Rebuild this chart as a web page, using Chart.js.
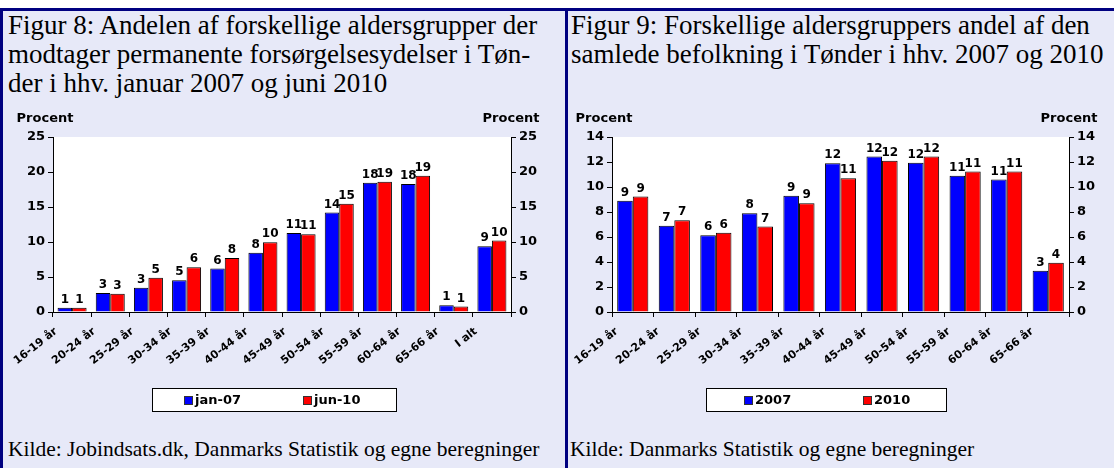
<!DOCTYPE html>
<html><head><meta charset="utf-8">
<script src="https://cdn.jsdelivr.net/npm/chart.js@4/dist/chart.umd.min.js"></script>
<style>
html,body{margin:0;padding:0;background:#fff;}
#wrap{position:relative;width:1114px;height:468px;overflow:hidden;background:#fff;}
.panel{position:absolute;top:11px;bottom:0;background:#E7E9F8;}
.rule{position:absolute;background:#000080;}
.title{position:absolute;top:11px;font-family:"Liberation Serif","Times New Roman",serif;font-size:27px;line-height:29px;color:#000;white-space:nowrap;}
.src{position:absolute;top:437px;font-family:"Liberation Serif","Times New Roman",serif;font-size:21.5px;line-height:25px;color:#000;white-space:nowrap;}
canvas{position:absolute;}
</style></head>
<body>
<div id="wrap">
  <div class="panel" style="left:3px;width:562px;"></div>
  <div class="panel" style="left:568px;width:546px;"></div>
  <div class="rule" style="left:0;top:8px;width:1114px;height:3px;"></div>
  <div class="rule" style="left:0;top:8px;width:3px;bottom:0;"></div>
  <div class="rule" style="left:565px;top:8px;width:3px;bottom:0;"></div>
  <div class="title" style="left:8px;">Figur 8: Andelen af forskellige aldersgrupper der<br>modtager permanente forsørgelsesydelser i Tøn-<br>der i hhv. januar 2007 og juni 2010</div>
  <div class="title" style="left:571px;">Figur 9: Forskellige aldersgruppers andel af den<br>samlede befolkning i Tønder i hhv. 2007 og 2010</div>
  <canvas id="c1" style="left:3px;top:100px;"></canvas>
  <canvas id="c2" style="left:568px;top:100px;"></canvas>
  <div class="src" style="left:8px;">Kilde: Jobindsats.dk, Danmarks Statistik og egne beregninger</div>
  <div class="src" style="left:570px;">Kilde: Danmarks Statistik og egne beregninger</div>
</div>
<script>
// ---------- DATA ----------
const ageGroups1 = ['16-19 år','20-24 år','25-29 år','30-34 år','35-39 år','40-44 år','45-49 år','50-54 år','55-59 år','60-64 år','65-66 år','I alt'];
const jan07 = [0.6, 2.7, 3.45, 4.55, 6.2, 8.45, 11.3, 14.2, 18.45, 18.3, 0.95, 9.4];
const jun10 = [0.6, 2.6, 4.9, 6.4, 7.7, 9.95, 11.1, 15.45, 18.6, 19.45, 0.8, 10.2];
const ticks1 = [0, 5, 10, 15, 20, 25];
const seriesNames1 = ['jan-07', 'jun-10'];

const ageGroups2 = ['16-19 år','20-24 år','25-29 år','30-34 år','35-39 år','40-44 år','45-49 år','50-54 år','55-59 år','60-64 år','65-66 år'];
const pop2007 = [8.9, 6.9, 6.15, 7.9, 9.3, 11.9, 12.45, 11.95, 10.9, 10.6, 3.3];
const pop2010 = [9.25, 7.35, 6.35, 6.85, 8.7, 10.7, 12.1, 12.45, 11.25, 11.25, 3.95];
const ticks2 = [0, 2, 4, 6, 8, 10, 12, 14];
const seriesNames2 = ['2007', '2010'];

const axisLabel = 'Procent';

// ---------- STYLE ----------
const FONT = '"DejaVu Sans", "Liberation Sans", Arial, sans-serif';
const BLUE = '#0000FF', RED = '#FF0000';

const decorPlugin = {
  id: 'decor',
  beforeDraw(chart) {
    const { ctx, chartArea: a } = chart;
    ctx.save();
    ctx.fillStyle = '#FFFFFF';
    ctx.fillRect(a.left, a.top, a.right - a.left, a.bottom - a.top);
    ctx.restore();
  },
  afterDatasetsDraw(chart) {
    const { ctx } = chart;
    ctx.save();
    ctx.font = 'bold 12px ' + FONT;
    ctx.fillStyle = '#000';
    ctx.textAlign = 'center';
    ctx.textBaseline = 'bottom';
    chart.data.datasets.forEach((ds, i) => {
      chart.getDatasetMeta(i).data.forEach((bar, j) => {
        ctx.fillText(String(Math.round(ds.data[j])), bar.x, bar.y - 2);
      });
    });
    ctx.restore();
  },
  afterDraw(chart, args, opts) {
    const { ctx } = chart;
    ctx.save();
    ctx.font = 'bold 13px ' + FONT;
    ctx.fillStyle = '#000';
    ctx.textBaseline = 'middle';
    ctx.textAlign = 'center';
    ctx.fillText(opts.axisTitle, chart.scales.y.right - 8, opts.titleY);
    ctx.fillText(opts.axisTitle, chart.scales.y2.left, opts.titleY);
    // legend box
    const L = opts.legend;
    ctx.fillStyle = '#FFFFFF';
    ctx.fillRect(L.x, L.y, L.w, L.h);
    ctx.strokeStyle = '#000';
    ctx.lineWidth = 1;
    ctx.strokeRect(L.x + 0.5, L.y + 0.5, L.w, L.h);
    ctx.textAlign = 'left';
    ctx.font = 'bold 13px ' + FONT;
    chart.data.datasets.forEach((ds, i) => {
      const sx = L.x + L.items[i];
      const sy = L.y + Math.round(L.h / 2) - 4;
      ctx.fillStyle = ds.backgroundColor;
      ctx.fillRect(sx, sy, 8, 8);
      ctx.strokeStyle = '#333';
      ctx.strokeRect(sx + 0.5, sy + 0.5, 8, 8);
      ctx.fillStyle = '#000';
      ctx.fillText(ds.label, sx + 11, L.y + L.h / 2 + 1);
    });
    ctx.restore();
  }
};

function makeChart(id, width, cats, a, b, names, tickVals, leftW, rightW, catPct, legend) {
  const cv = document.getElementById(id);
  cv.width = width; cv.height = 320;
  const yMin = tickVals[0], yMax = tickVals[tickVals.length - 1], yStep = tickVals[1] - tickVals[0];
  const yAxis = (pos, w) => ({
    position: pos,
    min: yMin, max: yMax,
    ticks: { stepSize: yStep, color: '#000', font: { family: FONT, size: 13, weight: 'bold' }, padding: 3 },
    grid: { drawOnChartArea: false, drawTicks: true, tickLength: 5, color: '#000' },
    border: { color: '#000', width: 1 },
    afterFit(s) { s.width = w; }
  });
  return new Chart(cv, {
    type: 'bar',
    data: {
      labels: cats,
      datasets: [
        { label: names[0], data: a, backgroundColor: BLUE, borderColor: '#000', borderWidth: 1, yAxisID: 'y' },
        { label: names[1], data: b, backgroundColor: RED, borderColor: '#000', borderWidth: 1, yAxisID: 'y' }
      ]
    },
    options: {
      responsive: false,
      animation: false,
      devicePixelRatio: 1,
      layout: { padding: { top: 37, left: 0, right: 0, bottom: 0 } },
      datasets: { bar: { barPercentage: 1, categoryPercentage: catPct } },
      plugins: {
        legend: { display: false },
        tooltip: { enabled: false },
        decor: { axisTitle: axisLabel, titleY: 19, legend: legend }
      },
      scales: {
        x: {
          ticks: { color: '#000', font: { family: FONT, size: 11, weight: 'bold' }, minRotation: 38, maxRotation: 38, autoSkip: false, padding: 8, labelOffset: -16 },
          grid: { offset: true, drawOnChartArea: false, tickLength: 5, color: '#000' },
          border: { color: '#000', width: 1 },
          afterFit(s) { s.height = 108; }
        },
        y: yAxis('left', leftW),
        y2: yAxis('right', rightW)
      }
    },
    plugins: [decorPlugin]
  });
}

makeChart('c1', 562, ageGroups1, jan07, jun10, seriesNames1, ticks1, 50, 54, 0.76,
  { x: 149, y: 288, w: 244, h: 23, items: [32, 151] });
makeChart('c2', 546, ageGroups2, pop2007, pop2010, seriesNames2, ticks2, 44, 45, 0.75,
  { x: 138, y: 288, w: 240, h: 23, items: [38, 157] });
</script>
</body></html>
